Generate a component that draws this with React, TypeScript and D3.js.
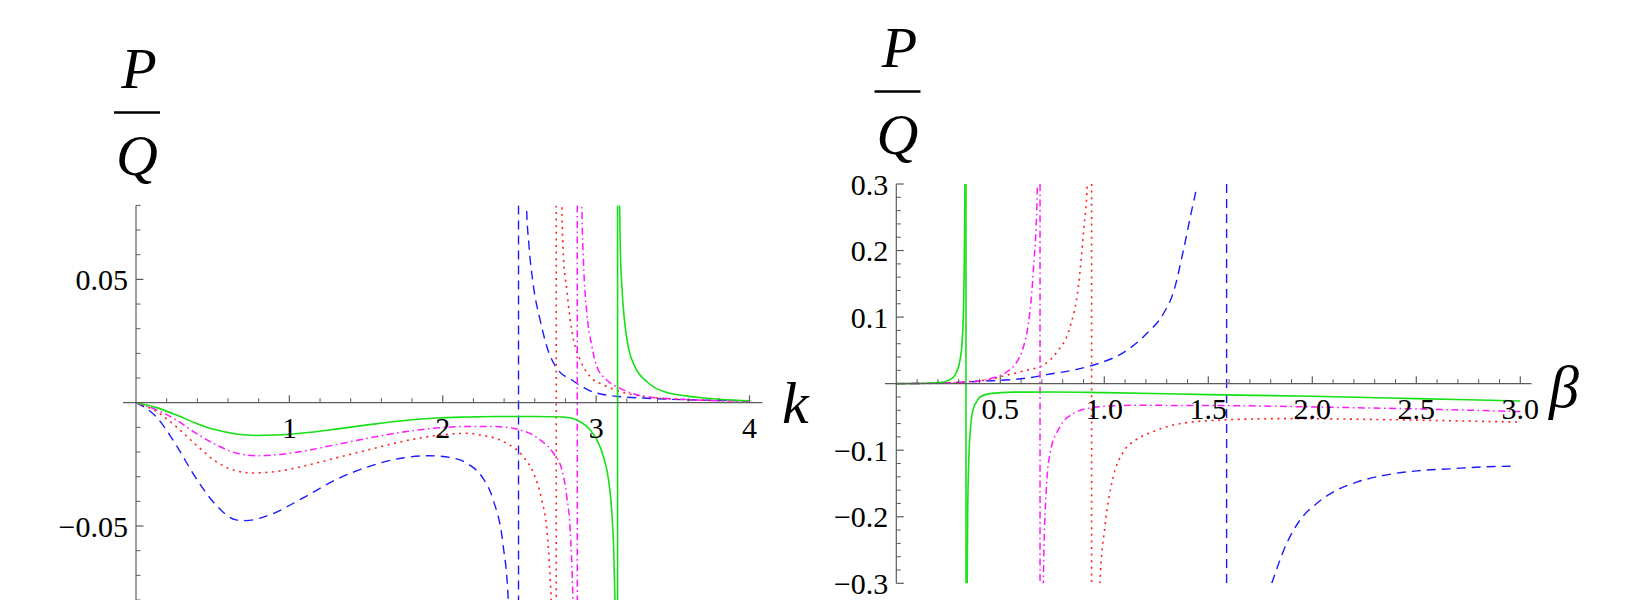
import React from "react";
import * as d3 from "d3";

type Pt = [number, number];

// ---- left panel: P/Q versus k ----
const blueK1: Pt[] = [[0, 0], [0.13, -0.0056], [0.26, -0.017], [0.39, -0.0305], [0.52, -0.0414], [0.652, -0.0475], [0.717, -0.0478], [0.87, -0.0455], [1.087, -0.0387], [1.304, -0.0312], [1.522, -0.0258], [1.739, -0.0224], [1.913, -0.0215], [2.065, -0.0224], [2.174, -0.0252], [2.261, -0.0305], [2.329, -0.0394], [2.394, -0.058], [2.427, -0.08], [2.433, -0.09]];
const blueK2: Pt[] = [[2.543, 0.09], [2.546, 0.08], [2.562, 0.064], [2.592, 0.047], [2.635, 0.0335], [2.679, 0.0227], [2.744, 0.0139], [2.842, 0.0092], [2.95, 0.0051], [3.07, 0.0031], [3.331, 0.0018], [3.658, 0.0011], [4, 0.0008]];
const redK1: Pt[] = [[0, 0], [0.13, -0.0034], [0.26, -0.0096], [0.39, -0.017], [0.52, -0.0238], [0.652, -0.0276], [0.761, -0.0285], [0.913, -0.0279], [1.087, -0.0258], [1.304, -0.0224], [1.522, -0.019], [1.739, -0.0157], [1.957, -0.0133], [2.174, -0.0124], [2.243, -0.0131], [2.348, -0.0145], [2.417, -0.0165], [2.526, -0.0219], [2.592, -0.0286], [2.646, -0.0395], [2.679, -0.0516], [2.701, -0.0719], [2.707, -0.08], [2.71, -0.09]];
const redK2: Pt[] = [[2.775, 0.09], [2.777, 0.08], [2.787, 0.0592], [2.809, 0.0457], [2.831, 0.0335], [2.853, 0.0254], [2.896, 0.0173], [2.962, 0.0105], [3.048, 0.0072], [3.157, 0.0045], [3.331, 0.0024], [3.548, 0.0014], [4, 0.0007]];
const magentaK1: Pt[] = [[0, 0], [0.13, -0.0028], [0.26, -0.0069], [0.39, -0.0123], [0.52, -0.017], [0.652, -0.0204], [0.783, -0.0215], [0.913, -0.0211], [1.087, -0.0197], [1.304, -0.017], [1.522, -0.0143], [1.739, -0.0119], [1.957, -0.0103], [2.174, -0.0096], [2.348, -0.0097], [2.461, -0.0104], [2.635, -0.0151], [2.722, -0.0205], [2.777, -0.0273], [2.809, -0.0381], [2.831, -0.0516], [2.849, -0.08], [2.853, -0.09]];
const magentaK2: Pt[] = [[2.905, 0.09], [2.907, 0.08], [2.918, 0.0565], [2.94, 0.0362], [2.973, 0.0227], [3.005, 0.0146], [3.07, 0.0092], [3.157, 0.0058], [3.331, 0.0024], [3.658, 0.0011], [4, 0.0006]];
const greenK1: Pt[] = [[0, 0], [0.13, -0.0019], [0.26, -0.0049], [0.39, -0.0083], [0.52, -0.011], [0.652, -0.0127], [0.783, -0.0133], [0.913, -0.0131], [1.087, -0.0123], [1.304, -0.0107], [1.522, -0.0089], [1.739, -0.0073], [1.957, -0.0062], [2.174, -0.0058], [2.348, -0.0056], [2.6, -0.0056], [2.787, -0.0058], [2.896, -0.0077], [2.962, -0.0111], [3.005, -0.0151], [3.048, -0.0219], [3.081, -0.0313], [3.103, -0.0449], [3.114, -0.0584], [3.123, -0.08], [3.126, -0.09]];
const greenK2: Pt[] = [[3.151, 0.09], [3.153, 0.08], [3.158, 0.062], [3.168, 0.047], [3.183, 0.0345], [3.211, 0.0222], [3.255, 0.0143], [3.331, 0.0085], [3.44, 0.0045], [3.658, 0.0022], [4, 0.0008]];
const polesK = { blue: 2.494, red: 2.74, magenta: 2.877, green: 3.14 };

const kTickLabels = ["1", "2", "3", "4"];
const kTickValues = [1, 2, 3, 4];
const pqLeftTickValues = [-0.05, 0.05];
const pqLeftTickLabels = ["\u22120.05", "0.05"];

// ---- right panel: P/Q versus beta ----
const blueB1: Pt[] = [[0, 0], [0.2, 0.0008], [0.402, 0.0035], [0.643, 0.009], [0.723, 0.0135], [0.883, 0.0225], [0.979, 0.031], [1.077, 0.044], [1.205, 0.0756], [1.284, 0.105], [1.334, 0.139], [1.38, 0.2], [1.42, 0.26], [1.441, 0.29]];
const blueB2: Pt[] = [[1.805, -0.3], [1.877, -0.24], [1.941, -0.205], [2.021, -0.18], [2.117, -0.16], [2.213, -0.148], [2.341, -0.138], [2.502, -0.131], [2.662, -0.128], [2.822, -0.125], [2.966, -0.124]];
const redB1: Pt[] = [[0, 0], [0.2, 0.0005], [0.378, 0.004], [0.45, 0.006], [0.503, 0.0105], [0.611, 0.019], [0.707, 0.028], [0.771, 0.047], [0.835, 0.085], [0.875, 0.145], [0.902, 0.235], [0.918, 0.3], [0.92, 0.33]];
const redB2: Pt[] = [[0.978, -0.33], [0.979, -0.3], [1.003, -0.215], [1.043, -0.14], [1.091, -0.103], [1.15, -0.085], [1.22, -0.074], [1.334, -0.062], [1.54, -0.055], [1.86, -0.0525], [2.34, -0.054], [3.0, -0.0578]];
const magentaB1: Pt[] = [[0, 0], [0.162, 0.0008], [0.354, 0.0025], [0.45, 0.0075], [0.531, 0.0175], [0.579, 0.0325], [0.611, 0.055], [0.635, 0.09], [0.651, 0.135], [0.662, 0.185], [0.672, 0.235], [0.678, 0.3], [0.679, 0.33]];
const magentaB2: Pt[] = [[0.706, -0.33], [0.707, -0.3], [0.72, -0.165], [0.739, -0.105], [0.787, -0.065], [0.851, -0.045], [0.963, -0.035], [1.124, -0.0326], [1.6, -0.033], [2.0, -0.035], [2.5, -0.038], [3.0, -0.042]];
const greenB1: Pt[] = [[0, 0], [0.162, 0.001], [0.226, 0.0025], [0.266, 0.0075], [0.29, 0.0175], [0.306, 0.035], [0.317, 0.065], [0.322, 0.1], [0.327, 0.185], [0.33, 0.3], [0.331, 0.33]];
const greenB2: Pt[] = [[0.34, -0.33], [0.341, -0.3], [0.343, -0.2], [0.348, -0.12], [0.356, -0.07], [0.37, -0.038], [0.387, -0.027], [0.402, -0.02], [0.45, -0.015], [0.56, -0.0128], [0.75, -0.0125], [1.0, -0.0135], [1.5, -0.0165], [2.0, -0.019], [2.5, -0.0225], [3.0, -0.026]];
const polesB = { blue: 1.588, red: 0.939, magenta: 0.691, green: 0.335 };

const betaTickValues = [0.5, 1, 1.5, 2, 2.5, 3];
const betaTickLabels = ["0.5", "1.0", "1.5", "2.0", "2.5", "3.0"];
const pqRightTickValues = [-0.3, -0.2, -0.1, 0.1, 0.2, 0.3];
const pqRightTickLabels = ["\u22120.3", "\u22120.2", "\u22120.1", "0.1", "0.2", "0.3"];

const styles = {
  blue: { color: "#1a1aff", dash: "9,6", width: 1.4 },
  red: { color: "#ff2020", dash: "2,4.6", width: 1.6 },
  magenta: { color: "#ff1aff", dash: "7,3.5,1.6,3.5", width: 1.5 },
  green: { color: "#16e016", dash: "", width: 1.6 },
};

const SERIF = "Liberation Serif";
const AXIS = "#5c5c5c";

type Key = keyof typeof styles;

interface PanelProps {
  id: string;
  x: d3.ScaleLinear<number, number>;
  y: d3.ScaleLinear<number, number>;
  axisFrom: number;
  axisTo: number;
  xMinor: number[];
  xMajor: number[];
  xLabels: string[];
  yMinor: number[];
  yMajor: number[];
  yLabels: string[];
  curves: Record<Key, Pt[][]>;
  poles: Record<Key, number>;
  title: string;
  titleX: number;
  titleY: number;
  fracX: number;
  fracY: number;
}

const Panel = (p: PanelProps) => {
  const line = d3
    .line<Pt>()
    .x((d) => p.x(d[0]))
    .y((d) => p.y(d[1]))
    .curve(d3.curveMonotoneX);
  const [yBottom, yTop] = p.y.range();
  const y0 = p.y(0);
  const x0 = p.x(0);
  const order: Key[] = ["blue", "red", "magenta", "green"];
  const serif = { fontFamily: SERIF };
  const italic = { fontFamily: SERIF, fontStyle: "italic" as const };
  return (
    <g>
      <defs>
        <clipPath id={p.id}>
          <rect x={x0 - 20} y={yTop} width={p.axisTo - x0 + 40} height={yBottom - yTop} />
        </clipPath>
      </defs>
      <g clipPath={`url(#${p.id})`} fill="none">
        {order.map((k) => (
          <g key={k} stroke={styles[k].color} strokeWidth={styles[k].width} strokeDasharray={styles[k].dash}>
            {p.curves[k].map((c, i) => (
              <path key={i} d={line(c) || ""} />
            ))}
            <line x1={p.x(p.poles[k])} x2={p.x(p.poles[k])} y1={yTop} y2={yBottom} />
          </g>
        ))}
      </g>
      {/* axes */}
      <g stroke={AXIS} strokeWidth={1.2}>
        <line x1={p.axisFrom} x2={p.axisTo} y1={y0} y2={y0} />
        <line x1={x0} x2={x0} y1={yTop} y2={yBottom} />
        {p.xMinor.map((v, i) => (
          <line key={"xm" + i} x1={p.x(v)} x2={p.x(v)} y1={y0} y2={y0 - 4.5} strokeWidth={1} />
        ))}
        {p.xMajor.map((v, i) => (
          <line key={"xM" + i} x1={p.x(v)} x2={p.x(v)} y1={y0} y2={y0 - 7.5} />
        ))}
        {p.yMinor.map((v, i) => (
          <line key={"ym" + i} x1={x0} x2={x0 + 4.5} y1={p.y(v)} y2={p.y(v)} strokeWidth={1} />
        ))}
        {p.yMajor.map((v, i) => (
          <line key={"yM" + i} x1={x0} x2={x0 + 7.5} y1={p.y(v)} y2={p.y(v)} />
        ))}
      </g>
      <g style={serif} fontSize={30} fill="#000">
        {p.xMajor.map((v, i) => (
          <text key={"xl" + i} x={p.x(v)} y={y0 + 35.5} textAnchor="middle">
            {p.xLabels[i]}
          </text>
        ))}
        {p.yMajor.map((v, i) => (
          <text key={"yl" + i} x={x0 - 8} y={p.y(v) + 10.5} textAnchor="end">
            {p.yLabels[i]}
          </text>
        ))}
      </g>
      <text x={p.titleX} y={p.titleY} style={italic} fontSize={60}>
        {p.title}
      </text>
      <g style={italic} fontSize={58} textAnchor="middle">
        <text x={p.fracX + 2} y={p.fracY}>P</text>
        <line x1={p.fracX - 23} x2={p.fracX + 23} y1={p.fracY + 24.5} y2={p.fracY + 24.5} stroke="#000" strokeWidth={2.7} />
        <text x={p.fracX} y={p.fracY + 87}>Q</text>
      </g>
    </g>
  );
};

const App = () => {
  const kX = d3.scaleLinear().domain([0, 4]).range([136, 749.5]);
  const kY = d3.scaleLinear().domain([-0.08, 0.08]).range([600, 205.4]);
  const bX = d3.scaleLinear().domain([0, 3]).range([896.3, 1520.3]);
  const bY = d3.scaleLinear().domain([-0.3, 0.3]).range([583.3, 184]);

  const kMinor = d3.range(1, 21).map((i) => i * 0.2).filter((v) => Math.abs(v - Math.round(v)) > 1e-6);
  const pqLeftMinor = d3.range(-8, 9).map((i) => i * 0.01).filter((v) => Math.abs(v) > 1e-9 && Math.abs(Math.abs(v) - 0.05) > 1e-9);
  const bMinor = d3.range(1, 31).map((i) => i * 0.1).filter((v) => Math.abs(v * 2 - Math.round(v * 2)) > 1e-6);
  const pqRightMinor = d3.range(-15, 16).map((i) => i * 0.02).filter((v) => Math.abs(v) > 1e-9 && Math.abs(v * 10 - Math.round(v * 10)) > 1e-6);

  return (
    <svg width={1637} height={600} style={{ position: "absolute", left: 0, top: 0, background: "#fff" }}>
      <rect width={1637} height={600} fill="#fff" />
      <Panel
        id="clipK"
        x={kX}
        y={kY}
        axisFrom={123}
        axisTo={762.5}
        xMinor={kMinor}
        xMajor={kTickValues}
        xLabels={kTickLabels}
        yMinor={pqLeftMinor}
        yMajor={pqLeftTickValues}
        yLabels={pqLeftTickLabels}
        curves={{ blue: [blueK1, blueK2], red: [redK1, redK2], magenta: [magentaK1, magentaK2], green: [greenK1, greenK2] }}
        poles={polesK}
        title="k"
        titleX={782}
        titleY={423}
        fracX={137}
        fracY={88}
      />
      <Panel
        id="clipB"
        x={bX}
        y={bY}
        axisFrom={885}
        axisTo={1531.5}
        xMinor={bMinor}
        xMajor={betaTickValues}
        xLabels={betaTickLabels}
        yMinor={pqRightMinor}
        yMajor={pqRightTickValues}
        yLabels={pqRightTickLabels}
        curves={{ blue: [blueB1, blueB2], red: [redB1, redB2], magenta: [magentaB1, magentaB2], green: [greenB1, greenB2] }}
        poles={polesB}
        title={"\u03b2"}
        titleX={1549}
        titleY={407}
        fracX={897.5}
        fracY={67}
      />
    </svg>
  );
};

export default App;
